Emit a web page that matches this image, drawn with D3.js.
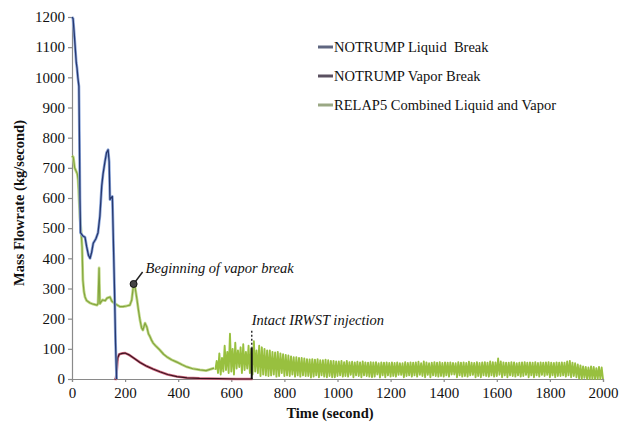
<!DOCTYPE html>
<html><head><meta charset="utf-8">
<script src="https://cdn.jsdelivr.net/npm/d3@7/dist/d3.min.js"></script>
<style>body{margin:0;background:#fff}svg{display:block}
svg text{font-family:"Liberation Serif","Times New Roman","DejaVu Serif",serif !important;}</style>
</head><body>
<svg id="c" width="635" height="425"></svg>
<script>
// ---- data ----
const yTicks = [0,100,200,300,400,500,600,700,800,900,1000,1100,1200];
const xTicks = [0,200,400,600,800,1000,1200,1400,1600,1800,2000];
const seriesNames = ["NOTRUMP Liquid  Break","NOTRUMP Vapor Break","RELAP5 Combined Liquid and Vapor"];

const liquidTime = [0,4,8,12,16,19,22,26,28,30,32,40,49,55,62,68,74,80,90,98,105,112,117,124,130,136,140,143,147,152,155,160,164,168];
const liquidFlow = [1200,1195,1150,1100,1050,1030,1000,970,800,600,485,475,470,440,410,400,420,450,465,485,540,640,680,720,750,760,720,595,600,605,490,300,120,0];

const vaporTime = [160,165,168,172,178,190,200,215,235,256,280,305,331,360,395,433,480,550,620,680];
const vaporFlow = [0,0,20,70,82,85,86,80,68,55,43,33,24,15,8,4,2,1,0,0];

// RELAP5, smooth early part (0 - 535 s)
const relapTime = [0,5,10,15,20,23,30,35,38,41,45,49,55,68,80,94,98,102,105,115,125,132,143,150,154,160,170,180,192,205,218,225,230,235,240,245,250,256,262,267,275,282,288,294,300,305,315,331,345,358,375,395,415,433,455,482,505,520,535];
const relapFlow = [740,735,700,690,680,660,537,480,437,328,290,272,260,252,248,245,250,368,250,262,260,268,272,258,255,250,245,240,240,242,245,262,300,318,290,262,230,196,170,162,185,172,150,140,128,120,110,96,82,73,64,56,47,40,34,30,28,32,36];
// RELAP5, oscillating part sampled every 5 s from 540 s to 2000 s
const relapOscStart = 540, relapOscStep = 5;
const relapOscFlow = [
30,60,20,85,15,70,25,110,30,90,20,150,25,100,15,120,35,95,40,105,
20,115,30,90,35,110,20,100,15,125,25,95,20,110,10,105,15,100,12,95,
10,95,12,90,15,88,8,90,10,85,20,82,10,80,12,78,10,75,15,72,
8,72,12,70,8,70,12,68,10,66,10,65,5,66,8,64,12,66,6,62,
12,62,8,64,6,62,10,60,6,60,6,58,10,58,12,60,8,56,10,60,
8,56,14,57,6,55,12,57,10,55,6,58,12,55,10,54,8,56,6,55,
8,56,15,52,5,55,12,54,6,55,12,53,8,55,10,53,8,55,14,52,
14,52,6,56,10,53,12,55,8,54,12,55,8,57,14,52,10,58,6,55,
14,52,6,54,12,56,10,54,8,56,10,53,8,55,12,54,8,55,15,53,
15,52,6,56,12,54,8,55,10,53,8,57,12,54,14,53,6,56,10,53,
6,55,12,56,10,54,8,58,12,56,8,55,10,68,14,58,6,55,12,54,
6,54,12,56,10,55,8,52,12,54,8,55,10,56,14,54,6,55,12,54,
6,56,12,53,8,55,14,54,10,55,14,56,6,54,12,53,6,55,10,54,
10,55,12,54,8,58,12,60,6,54,10,52,6,48,2,45,0,42,4,40,
0,38,0,42,0,40,0,36,0,40,0,38,0];

const annVapor = {t:232, v:315, label:"Beginning of vapor break"};
const annIrwst = {t:677, label:"Intact IRWST injection"};

// ---- drawing ----
const svg = d3.select("#c");
const x = d3.scaleLinear().domain([0,2000]).range([72,603]);
const y = d3.scaleLinear().domain([0,1200]).range([379,17]);
const serif = "Liberation Serif";

const xAxis = svg.append("g").attr("transform","translate(0,379)")
  .call(d3.axisBottom(x).tickValues(xTicks).tickSize(3).tickPadding(4).tickFormat(d3.format("d")));
const yAxis = svg.append("g").attr("transform","translate(72,0)")
  .call(d3.axisLeft(y).tickValues(yTicks).tickSize(4).tickPadding(3).tickFormat(d3.format("d")));
[xAxis,yAxis].forEach(a=>{
  a.attr("font-family",serif);
  a.selectAll("path,line").attr("stroke","#8a8a8a").attr("stroke-width",1.2);
  a.selectAll("text").attr("font-size","15px").attr("fill","#111");
});
xAxis.selectAll("text").attr("dy","0.8em");

function line(ts, vs){ return d3.line().x((d,i)=>x(ts[i])).y((d,i)=>y(vs[i]))(vs); }
const oscTime = relapOscFlow.map((d,i)=>relapOscStart + i*relapOscStep);

// RELAP5 oscillating band
svg.append("path").attr("d",line(oscTime,relapOscFlow)).attr("fill","none")
  .attr("stroke","#98c03f").attr("stroke-width",1.9).attr("stroke-linejoin","round");
// RELAP5 early part
svg.append("path").attr("d",line(relapTime,relapFlow)).attr("fill","none")
  .attr("stroke","#c2d98c").attr("stroke-width",2.8).attr("stroke-linejoin","round");
svg.append("path").attr("d",line(relapTime,relapFlow)).attr("fill","none")
  .attr("stroke","#84a63e").attr("stroke-width",1.2).attr("stroke-linejoin","round");
// Vapor
svg.append("path").attr("d",line(vaporTime,vaporFlow)).attr("fill","none")
  .attr("stroke","#d06a80").attr("stroke-width",2.6);
svg.append("path").attr("d",line(vaporTime,vaporFlow)).attr("fill","none")
  .attr("stroke","#3a1420").attr("stroke-width",1.2);
// Liquid
svg.append("path").attr("d",line(liquidTime,liquidFlow)).attr("fill","none")
  .attr("stroke","#8fa9dc").attr("stroke-width",2.8).attr("stroke-linejoin","round");
svg.append("path").attr("d",line(liquidTime,liquidFlow)).attr("fill","none")
  .attr("stroke","#27386e").attr("stroke-width",1.3).attr("stroke-linejoin","round");

// IRWST marker line
svg.append("line").attr("x1",x(annIrwst.t)).attr("x2",x(annIrwst.t))
  .attr("y1",y(160)).attr("y2",y(105)).attr("stroke","#333").attr("stroke-width",1.5).attr("stroke-dasharray","2,2");
svg.append("line").attr("x1",x(annIrwst.t)).attr("x2",x(annIrwst.t))
  .attr("y1",y(105)).attr("y2",y(0)).attr("stroke","#111").attr("stroke-width",2);
svg.append("text").attr("x",x(annIrwst.t)).attr("y",y(180)).text(annIrwst.label)
  .attr("font-family",serif).attr("font-style","italic").attr("font-size","14.5px").attr("fill","#111");

// vapor break marker
const mx = x(annVapor.t), my = y(annVapor.v);
svg.append("line").attr("x1",mx).attr("y1",my).attr("x2",mx+9).attr("y2",my-12).attr("stroke","#222").attr("stroke-width",1.5);
svg.append("circle").attr("cx",mx).attr("cy",my).attr("r",3.5).attr("fill","#444").attr("stroke","#111").attr("stroke-width",1);
svg.append("text").attr("x",mx+12).attr("y",my-11).text(annVapor.label)
  .attr("font-family",serif).attr("font-style","italic").attr("font-size","14.5px").attr("fill","#111");

// legend
const legColors = ["#5f6680","#5a5060","#9aa884"];
seriesNames.forEach((n,i)=>{
  const ly = 47 + i*29;
  svg.append("line").attr("x1",318).attr("x2",333).attr("y1",ly).attr("y2",ly).attr("stroke",legColors[i]).attr("stroke-width",3);
  svg.append("text").attr("x",334).attr("y",ly+5).text(n).style("white-space","pre")
    .attr("font-family",serif).attr("font-size","14.5px").attr("fill","#111");
});

// axis titles
svg.append("text").attr("transform","translate(24,203) rotate(-90)").attr("text-anchor","middle")
  .text("Mass Flowrate (kg/second)").attr("font-family",serif).attr("font-weight","bold").attr("font-size","14.5px").attr("fill","#111");
svg.append("text").attr("x",330).attr("y",418).attr("text-anchor","middle")
  .text("Time (second)").attr("font-family",serif).attr("font-weight","bold").attr("font-size","14.5px").attr("fill","#111");
</script>
</body></html>
